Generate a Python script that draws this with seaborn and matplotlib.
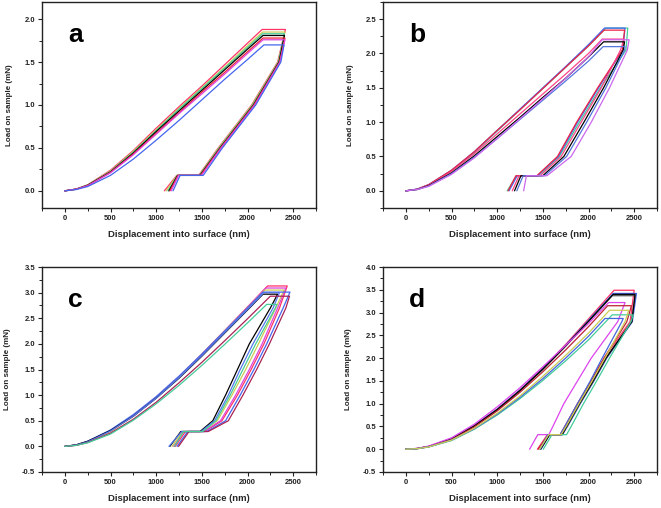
import matplotlib
matplotlib.use("Agg")
import matplotlib.pyplot as plt
import seaborn as sns
import pandas as pd
from matplotlib.ticker import MultipleLocator, FormatStrFormatter

sns.set_theme(style="ticks")
plt.rcParams['font.family'] = ['Liberation Sans', 'DejaVu Sans']

# shared displacement grid (nm) for the loading branches
LOAD_GRID = [0, 125, 250, 500, 750, 1000, 1250, 1500, 1750, 2000]

# ---------------- panel a ----------------
A_COLORS = ['#ff3366', '#cccc55', '#44cc99', '#000000', '#ee2233', '#dd44dd', '#4466ee']
A_LOAD = [
    [0, 0.02, 0.07, 0.24, 0.47, 0.73, 0.98, 1.22, 1.47, 1.72],
    [0, 0.02, 0.07, 0.23, 0.46, 0.71, 0.96, 1.20, 1.44, 1.69],
    [0, 0.02, 0.065, 0.225, 0.45, 0.70, 0.95, 1.19, 1.43, 1.67],
    [0, 0.02, 0.065, 0.22, 0.44, 0.69, 0.93, 1.17, 1.41, 1.65],
    [0, 0.02, 0.06, 0.215, 0.43, 0.67, 0.91, 1.15, 1.38, 1.62],
    [0, 0.02, 0.06, 0.21, 0.42, 0.66, 0.90, 1.13, 1.36, 1.60],
    [0, 0.015, 0.05, 0.18, 0.37, 0.59, 0.82, 1.06, 1.30, 1.53],
]
A_PEAK_H = [2160, 2165, 2165, 2170, 2170, 2170, 2180]
A_PEAK_P = [1.88, 1.85, 1.83, 1.81, 1.78, 1.76, 1.70]
A_HOLD_H = [2415, 2410, 2405, 2405, 2410, 2410, 2400]
A_UNL_LEVELS = [1.5, 1.0, 0.5]
A_UNL_H = [
    [2330, 2045, 1680],
    [2335, 2050, 1685],
    [2340, 2058, 1692],
    [2345, 2065, 1700],
    [2350, 2070, 1705],
    [2355, 2078, 1712],
    [2365, 2090, 1725],
]
A_LOW_P = 0.18
A_LOW_START = [1465, 1470, 1475, 1480, 1485, 1495, 1515]
A_LOW_END = [1225, 1228, 1232, 1235, 1240, 1245, 1262]
A_ZERO_H = [1090, 1110, 1130, 1140, 1150, 1165, 1185]

# ---------------- panel b ----------------
B_COLORS = ['#44cc99', '#4466ee', '#ee2244', '#ff4488', '#000000', '#5577dd', '#cc66ee']
B_LOAD = [
    [0, 0.025, 0.085, 0.29, 0.56, 0.87, 1.18, 1.49, 1.80, 2.11],
    [0, 0.025, 0.09, 0.30, 0.57, 0.88, 1.19, 1.50, 1.81, 2.13],
    [0, 0.025, 0.09, 0.30, 0.57, 0.88, 1.18, 1.49, 1.80, 2.11],
    [0, 0.02, 0.08, 0.28, 0.54, 0.83, 1.12, 1.41, 1.70, 2.00],
    [0, 0.02, 0.075, 0.26, 0.51, 0.79, 1.07, 1.36, 1.64, 1.95],
    [0, 0.02, 0.07, 0.25, 0.49, 0.76, 1.04, 1.32, 1.60, 1.89],
    [0, 0.02, 0.065, 0.24, 0.48, 0.76, 1.05, 1.34, 1.64, 1.95],
]
B_PEAK_H = [2190, 2175, 2170, 2150, 2165, 2160, 2150]
B_PEAK_P = [2.37, 2.37, 2.34, 2.21, 2.17, 2.10, 2.20]
B_HOLD_H = [2430, 2400, 2395, 2390, 2395, 2400, 2445]
B_UNL_LEVELS = [2.05, 1.5, 1.0, 0.5]
B_UNL_H = [
    [2410, 2130, 1900, 1680],
    [2375, 2110, 1880, 1670],
    [2370, 2100, 1870, 1660],
    [2350, 2140, 1920, 1700],
    [2380, 2165, 1950, 1730],
    [2395, 2190, 1980, 1760],
    [2425, 2230, 2030, 1810],
]
B_LOW_P = 0.22
B_LOW_START = [1450, 1440, 1435, 1470, 1500, 1520, 1545]
B_LOW_END = [1210, 1220, 1205, 1240, 1260, 1285, 1320]
B_ZERO_H = [1110, 1130, 1120, 1165, 1190, 1215, 1290]

# ---------------- panel c ----------------
C_COLORS = ['#ff3366', '#dd44dd', '#cccc55', '#4466ee', '#000000', '#5577ee', '#aa2255', '#44cc99']
C_LOAD = [
    [0, 0.025, 0.09, 0.30, 0.60, 0.96, 1.36, 1.80, 2.26, 2.72],
    [0, 0.025, 0.09, 0.30, 0.59, 0.95, 1.35, 1.79, 2.25, 2.71],
    [0, 0.022, 0.085, 0.29, 0.59, 0.95, 1.35, 1.79, 2.25, 2.70],
    [0, 0.03, 0.10, 0.32, 0.62, 0.97, 1.37, 1.80, 2.25, 2.70],
    [0, 0.03, 0.10, 0.31, 0.59, 0.94, 1.33, 1.76, 2.21, 2.66],
    [0, 0.025, 0.09, 0.30, 0.59, 0.94, 1.34, 1.77, 2.22, 2.67],
    [0, 0.02, 0.075, 0.26, 0.53, 0.86, 1.24, 1.64, 2.06, 2.49],
    [0, 0.02, 0.07, 0.24, 0.51, 0.83, 1.19, 1.58, 1.99, 2.41],
]
C_PEAK_H = [2220, 2200, 2190, 2170, 2170, 2180, 2250, 2210]
C_PEAK_P = [3.13, 3.09, 3.05, 3.01, 2.97, 3.00, 2.93, 2.77]
C_HOLD_H = [2435, 2420, 2400, 2465, 2330, 2350, 2460, 2320]
C_UNL_LEVELS = [2.7, 2.0, 1.5, 1.0, 0.5]
C_UNL_H = [
    [2350, 2180, 2040, 1890, 1720],
    [2330, 2160, 2020, 1870, 1705],
    [2310, 2120, 1980, 1830, 1670],
    [2390, 2210, 2070, 1920, 1760],
    [2250, 2020, 1890, 1760, 1620],
    [2280, 2060, 1920, 1790, 1640],
    [2420, 2240, 2100, 1950, 1790],
    [2305, 2090, 1950, 1810, 1655],
]
C_LOW_P = 0.29
C_LOW_START = [1530, 1520, 1500, 1555, 1480, 1490, 1570, 1510]
C_LOW_END = [1320, 1300, 1290, 1345, 1270, 1280, 1360, 1300]
C_ZERO_H = [1210, 1190, 1175, 1230, 1150, 1140, 1245, 1200]

# ---------------- panel d ----------------
D_COLORS = ['#ff3366', '#4466ee', '#555555', '#000000', '#dd44ee', '#bb2233', '#44cc99', '#4466dd', '#cccc55']
D_LOAD = [
    [0, 0.015, 0.06, 0.23, 0.52, 0.88, 1.30, 1.78, 2.30, 2.86],
    [0, 0.015, 0.06, 0.23, 0.52, 0.88, 1.30, 1.77, 2.28, 2.83],
    [0, 0.015, 0.06, 0.22, 0.51, 0.86, 1.28, 1.75, 2.26, 2.80],
    [0, 0.015, 0.06, 0.22, 0.51, 0.87, 1.29, 1.76, 2.27, 2.81],
    [0, 0.02, 0.07, 0.25, 0.55, 0.93, 1.35, 1.81, 2.28, 2.76],
    [0, 0.014, 0.055, 0.21, 0.49, 0.84, 1.25, 1.70, 2.18, 2.69],
    [0, 0.012, 0.05, 0.19, 0.44, 0.75, 1.11, 1.51, 1.94, 2.40],
    [0, 0.012, 0.05, 0.20, 0.45, 0.77, 1.14, 1.55, 2.00, 2.48],
    [0, 0.013, 0.05, 0.20, 0.46, 0.79, 1.17, 1.60, 2.06, 2.55],
]
D_PEAK_H = [2280, 2270, 2260, 2270, 2220, 2210, 2260, 2180, 2230]
D_PEAK_P = [3.49, 3.42, 3.37, 3.40, 3.22, 3.15, 2.95, 2.87, 3.05]
D_HOLD_H = [2500, 2525, 2510, 2510, 2400, 2470, 2490, 2380, 2440]
D_UNL_LEVELS = [2.8, 2.0, 1.5, 1.0, 0.5]
D_UNL_H = [
    [2455, 2170, 2030, 1880, 1740],
    [2480, 2200, 2060, 1910, 1770],
    [2470, 2195, 2055, 1905, 1765],
    [2475, 2190, 2050, 1900, 1760],
    [2320, 2030, 1880, 1730, 1610],
    [2420, 2170, 2030, 1880, 1745],
    [2465, 2230, 2090, 1945, 1810],
    [2365, 2150, 2020, 1880, 1740],
    [2400, 2180, 2040, 1895, 1755],
]
D_LOW_P = 0.32
D_LOW_START = [1690, 1715, 1710, 1710, 1565, 1690, 1760, 1690, 1700]
D_LOW_END = [1550, 1575, 1570, 1575, 1445, 1560, 1600, 1555, 1565]
D_ZERO_H = [1440, 1480, 1470, 1475, 1355, 1450, 1505, 1470, 1465]


def build(load, peak_h, peak_p, hold_h, levels, unl_h, low_p, low_start, low_end, zero_h):
    frames = []
    for i in range(len(load)):
        xs = list(LOAD_GRID) + [peak_h[i], hold_h[i]] + list(unl_h[i]) + [low_start[i], low_end[i], zero_h[i]]
        ys = list(load[i]) + [peak_p[i], peak_p[i]] + list(levels) + [low_p, low_p, 0.0]
        frames.append(pd.DataFrame({'x': xs, 'y': ys, 'curve': f'c{i}'}))
    return pd.concat(frames, ignore_index=True)


panels = [
    ('a', A_COLORS, build(A_LOAD, A_PEAK_H, A_PEAK_P, A_HOLD_H, A_UNL_LEVELS, A_UNL_H, A_LOW_P, A_LOW_START, A_LOW_END, A_ZERO_H),
     (-0.2, 2.2), [0.0, 0.5, 1.0, 1.5, 2.0], [42, 2, 274, 206]),
    ('b', B_COLORS, build(B_LOAD, B_PEAK_H, B_PEAK_P, B_HOLD_H, B_UNL_LEVELS, B_UNL_H, B_LOW_P, B_LOW_START, B_LOW_END, B_ZERO_H),
     (-0.25, 2.75), [0.0, 0.5, 1.0, 1.5, 2.0, 2.5], [383, 2, 274, 206]),
    ('c', C_COLORS, build(C_LOAD, C_PEAK_H, C_PEAK_P, C_HOLD_H, C_UNL_LEVELS, C_UNL_H, C_LOW_P, C_LOW_START, C_LOW_END, C_ZERO_H),
     (-0.5, 3.5), [-0.5, 0.0, 0.5, 1.0, 1.5, 2.0, 2.5, 3.0, 3.5], [42, 267, 274, 205]),
    ('d', D_COLORS, build(D_LOAD, D_PEAK_H, D_PEAK_P, D_HOLD_H, D_UNL_LEVELS, D_UNL_H, D_LOW_P, D_LOW_START, D_LOW_END, D_ZERO_H),
     (-0.5, 4.0), [-0.5, 0.0, 0.5, 1.0, 1.5, 2.0, 2.5, 3.0, 3.5, 4.0], [383, 267, 274, 205]),
]

W, H = 661, 508
fig = plt.figure(figsize=(W / 100, H / 100), dpi=100)

for letter, colors, df, ylim, yticks, (px, py, pw, ph) in panels:
    ax = fig.add_axes([px / W, 1 - (py + ph) / H, pw / W, ph / H])
    names = [f'c{i}' for i in range(len(colors))]
    sns.lineplot(data=df, x='x', y='y', hue='curve', hue_order=names, palette=colors,
                 sort=False, estimator=None, legend=False, linewidth=0.9, ax=ax)
    ax.set_xlim(-250, 2750)
    ax.set_ylim(*ylim)
    ax.set_xticks([0, 500, 1000, 1500, 2000, 2500])
    ax.set_yticks(yticks)
    ax.xaxis.set_minor_locator(MultipleLocator(250))
    ax.yaxis.set_minor_locator(MultipleLocator(0.25))
    ax.yaxis.set_major_formatter(FormatStrFormatter('%.1f'))
    ax.tick_params(which='major', direction='out', length=3, width=0.8, labelsize=5.5, pad=2,
                   colors='#222222')
    ax.tick_params(which='minor', direction='out', length=2, width=0.7, colors='#222222')
    for lab in ax.get_xticklabels() + ax.get_yticklabels():
        lab.set_fontweight('bold')
    for s in ax.spines.values():
        s.set_visible(True)
        s.set_linewidth(1.0)
        s.set_color('#222222')
    ax.set_xlabel('Displacement into surface (nm)', fontsize=6.8, fontweight='bold', labelpad=6)
    ax.set_ylabel('Load on sample (mN)', fontsize=5.8, fontweight='bold', labelpad=8)
    ax.text(0.095, 0.84, letter, transform=ax.transAxes, fontsize=19, fontweight='bold',
            ha='left', va='center', color='black')

fig.savefig('out.png', dpi=100)
